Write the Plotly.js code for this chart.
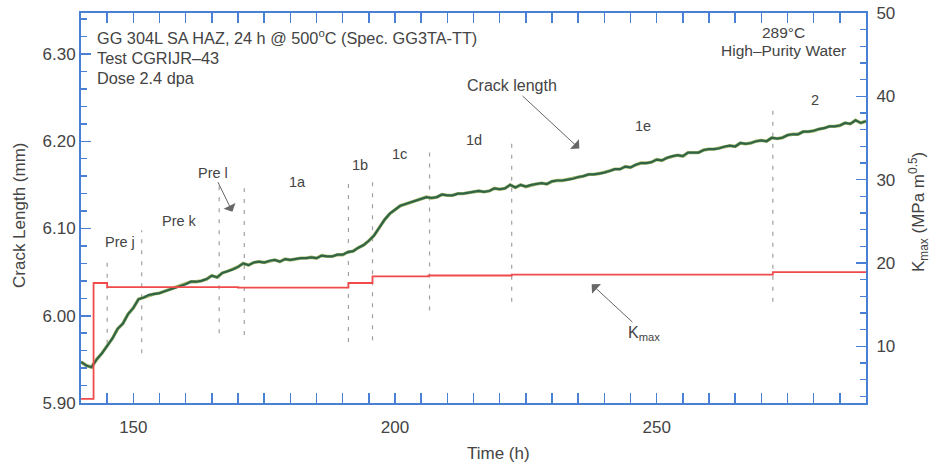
<!DOCTYPE html>
<html>
<head>
<meta charset="utf-8">
<script src="https://cdn.plot.ly/plotly-3.0.1.min.js"></script>
<style>html,body{margin:0;padding:0;background:#fff;}#chart{width:933px;height:466px;}</style>
</head>
<body>
<div id="chart"></div>
<script>
// Crack length (mm) vs time (h)
var timeH = [140,141,142,143,144,145,146,147,148,149,150,151,152,153,154,155,156,157,158,159,160,161,162,163,164,165,166,167,168,169,170,171,172,173,174,175,176,177,178,179,180,181,182,183,184,185,186,187,188,189,190,191,192,193,194,195,196,197,198,199,200,201,202,203,204,205,206,207,208,209,210,211,212,213,214,215,216,217,218,219,220,221,222,223,224,225,226,227,228,229,230,231,232,233,234,235,236,237,238,239,240,241,242,243,244,245,246,247,248,249,250,251,252,253,254,255,256,257,258,259,260,261,262,263,264,265,266,267,268,269,270,271,272,273,274,275,276,277,278,279,280,281,282,283,284,285,286,287,288,289,290];
var crackMM = [5.947,5.943,5.941,5.950,5.957,5.966,5.974,5.985,5.991,6.002,
  6.009,6.019,6.021,6.024,6.025,6.026,6.028,6.030,6.032,6.034,6.036,6.039,6.039,6.040,6.042,6.046,6.044,6.049,6.051,6.053,
  6.056,6.060,6.058,6.061,6.062,6.061,6.063,6.064,6.062,6.065,6.064,6.065,6.066,6.066,6.067,6.066,6.069,6.068,6.068,6.070,6.070,
  6.073,6.074,6.078,6.081,6.086,6.092,6.101,6.110,6.117,6.122,6.126,6.128,6.130,6.132,
  6.134,6.136,6.135,6.136,6.139,6.138,6.138,6.140,6.140,6.141,6.142,6.143,6.142,6.143,6.146,6.145,6.146,6.150,6.147,6.150,
  6.148,6.150,6.151,6.152,6.151,6.154,6.155,6.155,6.156,6.157,6.159,6.160,6.162,6.162,6.163,6.164,6.166,6.168,6.168,6.171,
  6.170,6.173,6.175,6.175,6.176,6.179,6.178,6.181,6.183,6.184,6.183,6.187,6.187,6.187,6.190,6.191,6.191,6.192,6.194,6.195,
  6.194,6.198,6.197,6.198,6.200,6.201,6.200,6.204,6.203,6.204,6.207,6.208,6.208,6.211,6.211,6.212,6.214,6.215,6.217,6.217,
  6.218,6.221,6.220,6.224,6.221,6.223];

// Kmax (MPa m^0.5) step history
var kTime = [140,142.4,145,170,191.1,195.7,206.4,222.3,272.2,290];
var kMax  = [3.7,17.6,17.1,17.05,17.6,18.4,18.5,18.6,18.9,18.85];

// Test phase boundaries (dashed markers)
var phaseX   = [145.0,151.6,166.4,171.2,191.1,195.7,206.6,222.3,272.2];
var phaseYlo = [5.968,5.957,5.980,5.978,5.970,5.972,6.006,6.016,6.016];
var phaseYhi = [6.062,6.098,6.150,6.146,6.153,6.159,6.194,6.205,6.238];

// Phase labels
var phaseLabels = ["Pre j","Pre k","Pre l","1a","1b","1c","1d","1e","2"];
var labelX = [147.5,158.9,165.2,181.3,193.4,200.8,215.1,247.4,280.3];
var labelY = [6.085,6.109,6.166,6.153,6.173,6.185,6.201,6.218,6.247];

var AX = '#4a80d4';
var TXT = '#444';
var FONT = 'Liberation Sans, Arial, Helvetica, sans-serif';

var traces = [
  {x: timeH, y: crackMM, type: 'scatter', mode: 'lines', line: {color: '#a9b86c', width: 3.4}, hoverinfo: 'skip', showlegend: false},
  {x: timeH, y: crackMM, type: 'scatter', mode: 'lines', line: {color: '#2f6546', width: 2.2}, name: 'Crack length', showlegend: false},
  {x: kTime, y: kMax, type: 'scatter', mode: 'lines', line: {color: '#f04a4a', width: 1.8, shape: 'hv'}, yaxis: 'y2', name: 'Kmax', showlegend: false}
];

var shapes = phaseX.map(function(xv, i){
  return {type: 'line', xref: 'x', yref: 'y', x0: xv, x1: xv, y0: phaseYlo[i], y1: phaseYhi[i],
          line: {color: '#a0a0a0', width: 1.2, dash: '4px,7px'}, layer: 'below'};
});

var annotations = [];
phaseLabels.forEach(function(t, i){
  var a = {x: labelX[i], y: labelY[i], xref: 'x', yref: 'y', text: t, showarrow: false,
    xanchor: 'center', yanchor: 'middle', font: {family: FONT, size: 14.5, color: TXT}};
  if (t === 'Pre l') {
    a.showarrow = true; a.x = 169.1; a.y = 6.117; a.ax = -20; a.ay = -41;
    a.arrowhead = 1; a.arrowsize = 2.2; a.arrowwidth = 1; a.arrowcolor = '#666'; a.standoff = 2;
  }
  annotations.push(a);
});

function paperX(px){ return (px - 81) / 785; }
function paperY(py){ return (403 - py) / 390; }

annotations = annotations.concat([
  {xref: 'paper', yref: 'paper', x: paperX(95), y: paperY(37), xanchor: 'left', yanchor: 'middle', showarrow: false,
   text: 'GG 304L SA HAZ, 24 h @ 500<sup>o</sup>C (Spec. GG3TA-TT)', font: {family: FONT, size: 16.3, color: TXT}},
  {xref: 'paper', yref: 'paper', x: paperX(95), y: paperY(58), xanchor: 'left', yanchor: 'middle', showarrow: false,
   text: 'Test CGRIJR–43', font: {family: FONT, size: 16.3, color: TXT}},
  {xref: 'paper', yref: 'paper', x: paperX(95), y: paperY(78), xanchor: 'left', yanchor: 'middle', showarrow: false,
   text: 'Dose 2.4 dpa', font: {family: FONT, size: 16.3, color: TXT}},
  {xref: 'paper', yref: 'paper', x: paperX(783), y: paperY(32), xanchor: 'center', yanchor: 'middle', showarrow: false,
   text: '289°C', font: {family: FONT, size: 15.5, color: TXT}},
  {xref: 'paper', yref: 'paper', x: paperX(783), y: paperY(51), xanchor: 'center', yanchor: 'middle', showarrow: false,
   text: 'High–Purity Water', font: {family: FONT, size: 15.5, color: TXT}},
  {xref: 'x', yref: 'y', x: 235.5, y: 6.190, ax: -69, ay: -64, showarrow: true, standoff: 2,
   arrowhead: 1, arrowsize: 2.2, arrowwidth: 1, arrowcolor: '#666',
   text: 'Crack length', font: {family: FONT, size: 16, color: TXT}},
  {xref: 'x', yref: 'y2', x: 237.3, y: 17.6, ax: 54, ay: 50, showarrow: true, standoff: 2,
   arrowhead: 1, arrowsize: 2.2, arrowwidth: 1, arrowcolor: '#666',
   text: 'K<sub>max</sub>', font: {family: FONT, size: 16, color: TXT}},
  // axis titles
  {xref: 'paper', yref: 'paper', x: paperX(498), y: paperY(453), xanchor: 'center', yanchor: 'middle', showarrow: false,
   text: 'Time (h)', font: {family: FONT, size: 17, color: TXT}},
  {xref: 'paper', yref: 'paper', x: paperX(20), y: paperY(216), xanchor: 'center', yanchor: 'middle', showarrow: false, textangle: -90,
   text: 'Crack Length (mm)', font: {family: FONT, size: 17, color: TXT}},
  {xref: 'paper', yref: 'paper', x: paperX(918), y: paperY(212), xanchor: 'center', yanchor: 'middle', showarrow: false, textangle: -90,
   text: 'K<sub>max</sub> (MPa m<sup>0.5</sup>)', font: {family: FONT, size: 17, color: TXT}}
]);

var layout = {
  width: 933, height: 466,
  margin: {l: 81, r: 67, t: 13, b: 63, pad: 0},
  paper_bgcolor: '#fff', plot_bgcolor: '#fff',
  font: {family: FONT, size: 17, color: TXT},
  showlegend: false,
  xaxis: {
    range: [140, 290], dtick: 50, tick0: 0, ticks: 'inside', ticklen: 10, tickwidth: 1.5, tickcolor: AX,
    minor: {dtick: 5, ticks: 'inside', ticklen: 6, tickwidth: 1.5, tickcolor: AX},
    showline: true, linecolor: AX, linewidth: 2, mirror: 'allticks', showgrid: false, zeroline: false,
    tickfont: {family: FONT, size: 17, color: TXT}, ticklabelstandoff: 8
  },
  yaxis: {
    range: [5.90, 6.347], dtick: 0.1, tick0: 5.9, tickformat: '.2f', ticks: 'inside', ticklen: 10, tickwidth: 1.5, tickcolor: AX,
    minor: {dtick: 0.02, ticks: 'inside', ticklen: 6, tickwidth: 1.5, tickcolor: AX},
    showline: true, linecolor: AX, linewidth: 2, mirror: false, showgrid: false, zeroline: false,
    tickfont: {family: FONT, size: 17, color: TXT}
  },
  yaxis2: {
    overlaying: 'y', side: 'right', anchor: 'x',
    range: [3.2, 50], dtick: 10, tick0: 0, ticks: 'inside', ticklen: 10, tickwidth: 1.5, tickcolor: AX,
    minor: {dtick: 2, ticks: 'inside', ticklen: 6, tickwidth: 1.5, tickcolor: AX},
    showline: true, linecolor: AX, linewidth: 2, showgrid: false, zeroline: false,
    tickfont: {family: FONT, size: 17, color: TXT}, ticklabelstandoff: 5
  },
  shapes: shapes,
  annotations: annotations
};

Plotly.newPlot('chart', traces, layout, {displayModeBar: false, staticPlot: true});
</script>
</body>
</html>
